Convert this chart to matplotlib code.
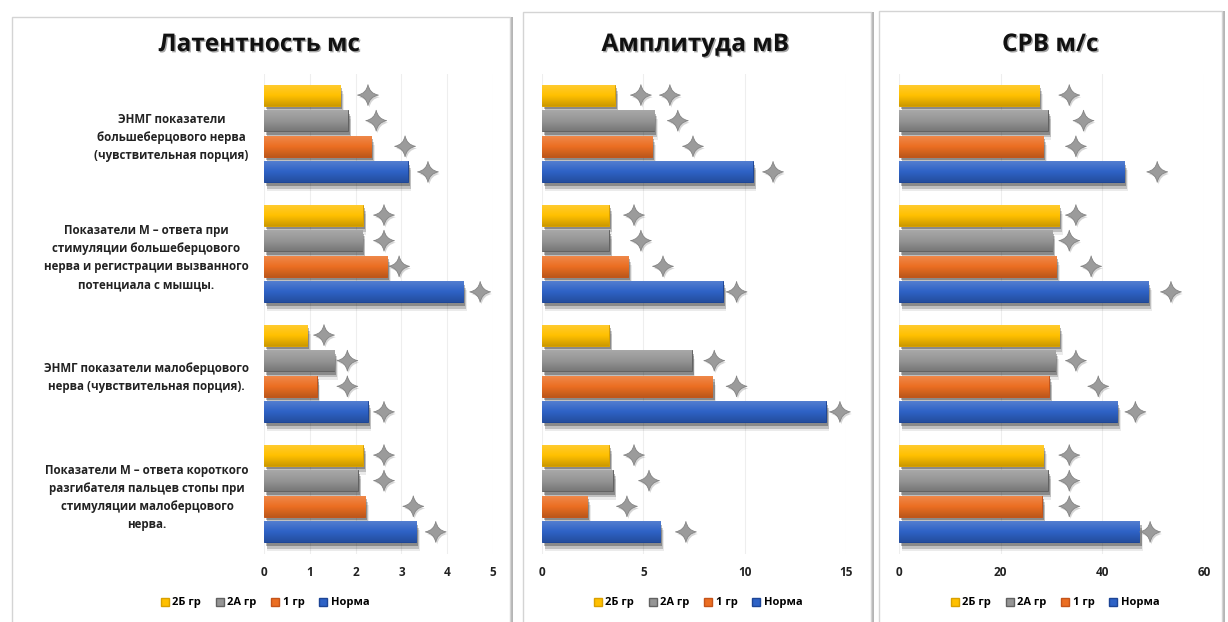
import matplotlib
matplotlib.use('Agg')
import matplotlib.pyplot as plt
import numpy as np
from matplotlib.patches import Rectangle, Patch
from matplotlib.path import Path
import matplotlib.patheffects as pe
import matplotlib.colors as mcolors

plt.rcParams['font.family'] = ['Open Sans', 'DejaVu Sans']
plt.rcParams['font.weight'] = 'bold'

# ---------------- data ----------------
categories = [
    "ЭНМГ показатели\nбольшеберцового нерва\n(чувствительная порция)",
    "Показатели М – ответа при\nстимуляции большеберцового\nнерва и регистрации вызванного\nпотенциала с мышцы.",
    "ЭНМГ показатели малоберцового\nнерва (чувствительная порция).",
    "Показатели М – ответа короткого\nразгибателя пальцев стопы при\nстимуляции малоберцового\nнерва.",
]
series_names = ["2Б гр", "2А гр", "1 гр", "Норма"]
titles = ["Латентность мс", "Амплитуда мВ", "СРВ м/с"]

lat_2b = [1.66, 2.16, 0.94, 2.16]
lat_2a = [1.83, 2.14, 1.53, 2.05]
lat_1 = [2.34, 2.69, 1.15, 2.21]
lat_norm = [3.14, 4.35, 2.27, 3.32]
lat_star_2b = [2.27, 2.62, 1.31, 2.62]
lat_star_2a = [2.45, 2.62, 1.82, 2.62]
lat_star_1 = [3.08, 2.95, 1.82, 3.26]
lat_star_norm = [3.58, 4.72, 2.62, 3.75]

amp_2b = [3.6, 3.3, 3.3, 3.3]
amp_2a = [5.53, 3.3, 7.38, 3.49]
amp_1 = [5.43, 4.25, 8.41, 2.23]
amp_norm = [10.41, 8.92, 14.0, 5.83]
amp_star_2b = [4.88, 4.54, None, 4.54]
amp_star_2b_extra = [6.31, None, None, None]
amp_star_2a = [6.7, 4.88, 8.5, 5.28]
amp_star_1 = [7.45, 5.97, 9.6, 4.19]
amp_star_norm = [11.4, 9.6, 14.7, 7.1]

crv_2b = [27.6, 31.5, 31.5, 28.4]
crv_2a = [29.3, 30.1, 30.7, 29.3]
crv_1 = [28.4, 30.9, 29.5, 28.1]
crv_norm = [44.3, 49.0, 42.9, 47.3]
crv_star_2b = [33.5, 34.8, None, 33.5]
crv_star_2a = [36.3, 33.5, 34.8, 33.5]
crv_star_1 = [34.8, 37.8, 39.2, 33.5]
crv_star_norm = [50.8, 53.5, 46.5, 49.4]

x_ticks = [[0, 1, 2, 3, 4, 5], [0, 5, 10, 15], [0, 20, 40, 60]]

# ---------------- style ----------------
colors = ['#FFC000', '#959595', '#EB6E22', '#2E62C6']
edges = ['#D9A000', '#626262', '#C4541A', '#1D4596']
offsets = [-0.32, -0.107, 0.107, 0.32]
bar_h = 0.175

W, H = 1228, 622
fig = plt.figure(figsize=(12.28, 6.22), dpi=100)
fig.patch.set_facecolor('white')


def fx(px):
    return px / W


def fy(py):
    return 1 - py / H


# panel frames
panels = [(12, 17, 510, 640), (523, 12, 871, 640), (879, 11, 1222, 640)]
for x0, y0, x1, y1 in panels:
    sh = Rectangle((fx(x0 + 3), fy(y1)), fx(x1 - x0), (y1 - y0) / H,
                   transform=fig.transFigure, facecolor='#b5b5b5',
                   edgecolor='none', zorder=-3)
    fig.add_artist(sh)
    fr = Rectangle((fx(x0), fy(y1)), fx(x1 - x0), (y1 - y0) / H,
                   transform=fig.transFigure, facecolor='white',
                   edgecolor='#d4d4d4', linewidth=1.0, zorder=-2)
    fig.add_artist(fr)

# star marker with concave sides
tips = [(0, 1), (1, 0), (0, -1), (-1, 0)]
c = 0.15
ctrl = [(c, c), (c, -c), (-c, -c), (-c, c)]
verts = [tips[0]]
codes = [Path.MOVETO]
for k in range(4):
    verts += [ctrl[k], tips[(k + 1) % 4]]
    codes += [Path.CURVE3, Path.CURVE3]
verts.append(tips[0])
codes.append(Path.CLOSEPOLY)
star = Path(verts, codes)

axes_rects = [
    [264 / W, fy(553.5), 229 / W, 480 / H],
    [542 / W, fy(553.5), 304 / W, 480 / H],
    [899 / W, fy(553.5), 305 / W, 480 / H],
]
panel_data = [
    ([lat_2b, lat_2a, lat_1, lat_norm],
     [lat_star_2b, lat_star_2a, lat_star_1, lat_star_norm], None),
    ([amp_2b, amp_2a, amp_1, amp_norm],
     [amp_star_2b, amp_star_2a, amp_star_1, amp_star_norm], amp_star_2b_extra),
    ([crv_2b, crv_2a, crv_1, crv_norm],
     [crv_star_2b, crv_star_2a, crv_star_1, crv_star_norm], None),
]
title_x = [259, 695, 1050]
legend_x = [265, 698, 1055]


def grad_cmap(color):
    cc = np.array(mcolors.to_rgb(color))
    top = cc + (1 - cc) * 0.18
    bot = cc * 0.80
    return mcolors.LinearSegmentedColormap.from_list('g', [top, cc, bot])


ypos = np.arange(len(categories))
grad = np.linspace(0, 1, 64).reshape(-1, 1)
shadow_fx = [pe.SimplePatchShadow(offset=(1.5, -2.5), shadow_rgbFace='black', alpha=0.28),
             pe.SimplePatchShadow(offset=(2, -4.5), shadow_rgbFace='black', alpha=0.18),
             pe.SimplePatchShadow(offset=(2.5, -6.5), shadow_rgbFace='black', alpha=0.08),
             pe.Normal()]
star_kw = dict(linestyle='none', marker=star, markersize=15,
               markerfacecolor='#9b9b9b', markeredgecolor='#858585',
               markeredgewidth=0.6, zorder=5, clip_on=False,
               path_effects=[pe.SimplePatchShadow(offset=(1, -1.5), alpha=0.2),
                             pe.Normal()])

for p, (rect, (vals, stars, extra)) in enumerate(zip(axes_rects, panel_data)):
    ax = fig.add_axes(rect)
    ax.set_facecolor('none')
    for s in range(4):
        bars = ax.barh(ypos + offsets[s], vals[s], height=bar_h, color=colors[s],
                       edgecolor=edges[s], linewidth=0.7, zorder=3,
                       label=series_names[s])
        cm = grad_cmap(colors[s])
        for b in bars:
            b.set_path_effects(shadow_fx)
            x0 = b.get_x()
            w = b.get_width()
            y0 = b.get_y()
            h = b.get_height()
            im = ax.imshow(grad, cmap=cm, extent=[x0, x0 + w, y0 + h, y0],
                           origin='upper', aspect='auto', zorder=3.5,
                           interpolation='bilinear')
            im.set_clip_path(b)
    for s in range(4):
        xs = [v for v in stars[s] if v is not None]
        ys = [ypos[i] + offsets[s] for i, v in enumerate(stars[s]) if v is not None]
        ax.plot(xs, ys, **star_kw)
    if extra is not None:
        xs = [v for v in extra if v is not None]
        ys = [ypos[i] + offsets[0] for i, v in enumerate(extra) if v is not None]
        ax.plot(xs, ys, **star_kw)
    ax.set_xlim(x_ticks[p][0], x_ticks[p][-1])
    ax.set_ylim(3.5, -0.5)
    ax.set_xticks(x_ticks[p])
    ax.grid(axis='x', color='#eeeeee', linewidth=0.8, zorder=0)
    ax.set_axisbelow(True)
    for sp in ax.spines.values():
        sp.set_visible(False)
    ax.tick_params(axis='x', length=0, labelsize=8.5, pad=9, labelcolor='#222222')
    if p == 0:
        ax.set_yticks(ypos)
        ax.set_yticklabels(categories, fontsize=8.3, multialignment='center',
                           linespacing=1.5, color='#222222')
        ax.tick_params(axis='y', length=0, pad=11)
    else:
        ax.set_yticks([])
    fig.text(fx(title_x[p]), fy(45), titles[p], ha='center', va='center',
             fontsize=17.5, fontweight='bold', color='#111111',
             path_effects=[pe.withSimplePatchShadow(offset=(1, -1), alpha=0.35)])
    handles = [Patch(facecolor=colors[s], edgecolor=edges[s]) for s in range(4)]
    fig.legend(handles, series_names, loc='center', ncol=4,
               bbox_to_anchor=(fx(legend_x[p]), fy(603)), frameon=False,
               fontsize=8, handlelength=0.75, handleheight=0.75,
               handletextpad=0.3, columnspacing=1.3, borderaxespad=0)

fig.savefig('out.png', dpi=100, facecolor='white')
